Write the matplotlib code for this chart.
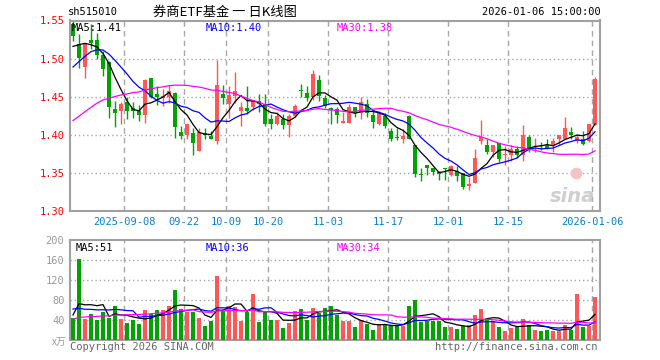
import numpy as np
import matplotlib.pyplot as plt

# daily OHLC, 2025-08-26 .. 2026-01-06
opens = [1.545, 1.519, 1.489, 1.525, 1.525, 1.505, 1.495, 1.434, 1.431, 1.443,
         1.435, 1.431, 1.426, 1.474, 1.454, 1.448, 1.449, 1.455, 1.404, 1.400,
         1.403, 1.379, 1.402, 1.399, 1.392, 1.454, 1.440, 1.451, 1.431, 1.435,
         1.436, 1.444, 1.441, 1.421, 1.414, 1.421, 1.413, 1.425, 1.459, 1.455,
         1.449, 1.472, 1.448, 1.435, 1.434, 1.416, 1.416, 1.436, 1.428, 1.440,
         1.426, 1.414, 1.425, 1.405, 1.397, 1.395, 1.425, 1.386, 1.348, 1.361,
         1.357, 1.351, 1.356, 1.347, 1.353, 1.350, 1.333, 1.337, 1.392, 1.386,
         1.377, 1.389, 1.373, 1.374, 1.381, 1.374, 1.397, 1.386, 1.387, 1.386,
         1.386, 1.394, 1.395, 1.404, 1.392, 1.395, 1.392, 1.413]
highs = [1.551, 1.532, 1.519, 1.545, 1.534, 1.510, 1.497, 1.445, 1.443, 1.449,
         1.443, 1.439, 1.473, 1.475, 1.464, 1.460, 1.465, 1.456, 1.411, 1.414,
         1.409, 1.409, 1.409, 1.405, 1.498, 1.465, 1.464, 1.482, 1.443, 1.464,
         1.446, 1.454, 1.453, 1.427, 1.430, 1.427, 1.427, 1.441, 1.467, 1.464,
         1.485, 1.478, 1.452, 1.437, 1.436, 1.430, 1.441, 1.436, 1.450, 1.447,
         1.431, 1.431, 1.428, 1.409, 1.409, 1.407, 1.426, 1.386, 1.357, 1.361,
         1.357, 1.353, 1.356, 1.361, 1.359, 1.350, 1.345, 1.382, 1.420, 1.394,
         1.387, 1.389, 1.385, 1.387, 1.385, 1.413, 1.400, 1.396, 1.391, 1.395,
         1.396, 1.400, 1.424, 1.410, 1.401, 1.405, 1.414, 1.476]
lows = [1.523, 1.488, 1.475, 1.512, 1.499, 1.477, 1.422, 1.410, 1.414, 1.421,
        1.422, 1.418, 1.416, 1.448, 1.439, 1.438, 1.442, 1.396, 1.394, 1.394,
        1.374, 1.379, 1.395, 1.394, 1.388, 1.440, 1.422, 1.442, 1.411, 1.427,
        1.432, 1.430, 1.412, 1.407, 1.413, 1.407, 1.397, 1.423, 1.449, 1.444,
        1.446, 1.444, 1.435, 1.414, 1.416, 1.416, 1.415, 1.423, 1.421, 1.423,
        1.409, 1.413, 1.409, 1.392, 1.393, 1.389, 1.394, 1.344, 1.339, 1.347,
        1.347, 1.341, 1.341, 1.346, 1.340, 1.329, 1.327, 1.337, 1.388, 1.375,
        1.371, 1.364, 1.361, 1.365, 1.370, 1.365, 1.377, 1.377, 1.380, 1.381,
        1.378, 1.387, 1.394, 1.394, 1.389, 1.386, 1.390, 1.413]
closes = [1.530, 1.501, 1.519, 1.521, 1.505, 1.487, 1.436, 1.428, 1.441, 1.431,
          1.431, 1.426, 1.472, 1.450, 1.449, 1.451, 1.457, 1.410, 1.398, 1.414,
          1.389, 1.404, 1.400, 1.395, 1.465, 1.448, 1.452, 1.457, 1.436, 1.431,
          1.446, 1.441, 1.414, 1.414, 1.425, 1.413, 1.425, 1.438, 1.458, 1.448,
          1.480, 1.451, 1.438, 1.432, 1.426, 1.418, 1.437, 1.428, 1.443, 1.428,
          1.417, 1.428, 1.412, 1.395, 1.396, 1.398, 1.395, 1.348, 1.347, 1.357,
          1.351, 1.349, 1.355, 1.359, 1.346, 1.332, 1.336, 1.369, 1.397, 1.377,
          1.387, 1.368, 1.374, 1.382, 1.374, 1.400, 1.381, 1.387, 1.385, 1.383,
          1.392, 1.400, 1.409, 1.400, 1.397, 1.388, 1.414, 1.473]
# volume, x10k
volume = [45, 162, 43, 53, 40, 56, 44, 68, 43, 35, 41, 32, 60, 52, 60, 60, 68, 100,
          62, 57, 57, 44, 29, 39, 129, 58, 68, 66, 39, 57, 93, 37, 57, 40, 40, 25,
          35, 59, 62, 40, 65, 55, 65, 68, 50, 39, 39, 26, 41, 32, 20, 32, 31, 31,
          29, 29, 68, 80, 37, 38, 39, 39, 26, 26, 22, 29, 30, 50, 62, 42, 39, 26,
          19, 24, 26, 42, 30, 21, 19, 20, 19, 19, 30, 21, 92, 27, 29, 87]

# earlier sessions (before the visible window), only used for the moving averages
prev_close = [1.33, 1.34, 1.35, 1.34, 1.36, 1.37, 1.36, 1.38, 1.39, 1.38,
              1.40, 1.39, 1.41, 1.40, 1.42, 1.41, 1.39, 1.40, 1.42, 1.43,
              1.43, 1.45, 1.46, 1.48, 1.49, 1.49, 1.51, 1.53, 1.52]
prev_vol = [25, 28, 30, 27, 32, 35, 30, 28, 26, 31, 33, 29, 30, 34, 32, 28, 30, 33, 36, 33,
            150, 60, 55, 50, 55, 48, 55, 52, 50]

tick_idx = [9, 19, 26, 33, 43, 53, 63, 73, 87]
tick_labels = ['2025-09-08', '09-22', '10-09', '10-20', '11-03', '11-17', '12-01', '12-15', '2026-01-06']

RED = '#ff5656'
GREEN = '#00a300'
MONO = ['DejaVu Sans Mono']
CJK = ['Noto Sans CJK SC', 'DejaVu Sans']


def ma(values, prev, n):
    full = np.array(prev + values, dtype=float)
    out = np.convolve(full, np.ones(n) / n, mode='valid')
    return out[-len(values):]


def px(x, y):
    return x / 660.0, 1 - y / 360.0


def style_axis(ax, ygrid):
    for s in ax.spines.values():
        s.set_color('#a0a0a0')
        s.set_linewidth(1.5)
    ax.set_xlim(-0.5, 87.83)
    for t in tick_idx:
        ax.axvline(t - 0.45, color='#a8a8a8', lw=1, ls=(0, (4, 3)), zorder=0)
    for g in ygrid:
        ax.axhline(g, color='#a8a8a8', lw=1, ls=(0, (1, 2)), zorder=0)
    ax.tick_params(length=0)


o = np.array(opens)
c = np.array(closes)
h = np.array(highs)
l = np.array(lows)
x = np.arange(len(o))
up = c >= o
cols = np.where(up, RED, GREEN)

fig = plt.figure(figsize=(6.6, 3.6), dpi=100)
ax = fig.add_axes([70 / 660, 1 - 211 / 360, 530 / 660, 190.5 / 360])
style_axis(ax, [1.35, 1.40, 1.45, 1.50])

ax.vlines(x, l, h, colors=cols, lw=1, zorder=2)
body = np.maximum(np.abs(c - o), 0.0012)
ax.bar(x, body, bottom=np.minimum(o, c), width=0.8, color=cols, lw=0, zorder=3)

m5 = ma(closes, prev_close, 5)
m10 = ma(closes, prev_close, 10)
m30 = ma(closes, prev_close, 30)
ax.plot(x, m5, color='black', lw=0.9, zorder=4)
ax.plot(x, m10, color='#0000ff', lw=0.9, zorder=4)
ax.plot(x, m30, color='#ff00ff', lw=0.9, zorder=4)

ax.set_ylim(1.30, 1.55)
ax.set_yticks([1.30, 1.35, 1.40, 1.45, 1.50, 1.55])
ax.set_yticklabels(['%.2f' % v for v in [1.30, 1.35, 1.40, 1.45, 1.50, 1.55]],
                   family=MONO, fontsize=7.5, color='#ff0000')
ax.set_xticks([t - 0.45 for t in tick_idx])
ax.set_xticklabels(tick_labels, family=MONO, fontsize=7.5, color='#0a7fd0')
ax.tick_params(axis='x', pad=4)
ax.tick_params(axis='y', pad=4)

ax.text(0.004, 0.985, 'MA5:%.2f' % m5[-1], transform=ax.transAxes, family=MONO,
        fontsize=7.5, color='black', va='top', zorder=5)
ax.text(0.256, 0.985, 'MA10:%.2f' % m10[-1], transform=ax.transAxes, family=MONO,
        fontsize=7.5, color='#0000ff', va='top', zorder=5)
ax.text(0.503, 0.985, 'MA30:%.2f' % m30[-1], transform=ax.transAxes, family=MONO,
        fontsize=7.5, color='#ff00ff', va='top', zorder=5)

# sina watermark
ax.text(0.99, 0.025, 'sina', transform=ax.transAxes, ha='right', va='bottom',
        fontsize=14, style='italic', weight='bold', color='#cfcfcf', zorder=1)
ax.scatter([0.955], [0.2], transform=ax.transAxes, s=55, color='#f4c4c4', zorder=1)

# volume panel
vax = fig.add_axes([70 / 660, 1 - 340 / 360, 530 / 660, 100 / 360])
style_axis(vax, [40, 80, 120, 160])
vax.bar(x, volume, width=0.76, color=cols, lw=0, zorder=3)
v5 = ma(volume, prev_vol, 5)
v10 = ma(volume, prev_vol, 10)
v30 = ma(volume, prev_vol, 30)
vax.plot(x, v5, color='black', lw=0.9, zorder=4)
vax.plot(x, v10, color='#0000ff', lw=0.9, zorder=4)
vax.plot(x, v30, color='#ff00ff', lw=0.9, zorder=4)
vax.set_ylim(0, 200)
vax.set_yticks([40, 80, 120, 160, 200])
vax.set_yticklabels(['40', '80', '120', '160', '200'], family=MONO, fontsize=7.5, color='#999999')
vax.tick_params(axis='y', pad=4)
vax.set_xticks([])

vax.text(0.01, 0.97, 'MA5:%d' % round(v5[-1]), transform=vax.transAxes, family=MONO,
         fontsize=7.5, color='black', va='top', zorder=5)
vax.text(0.256, 0.97, 'MA10:%d' % round(v10[-1]), transform=vax.transAxes, family=MONO,
         fontsize=7.5, color='#0000ff', va='top', zorder=5)
vax.text(0.503, 0.97, 'MA30:%d' % round(v30[-1]), transform=vax.transAxes, family=MONO,
         fontsize=7.5, color='#ff00ff', va='top', zorder=5)

# header / footer texts
fig.text(*px(68, 12), 'sh515010', family=MONO, fontsize=7.5, va='center')
fig.text(*px(225, 12), '券商ETF基金 一 日K线图', family=CJK, fontsize=9.5, ha='center', va='center')
fig.text(*px(601, 12), '2026-01-06 15:00:00', family=MONO, fontsize=7.5, ha='right', va='center')
fig.text(*px(66, 342), 'x万', family=CJK, fontsize=7, color='#999999', ha='right', va='center')
fig.text(*px(70, 347), 'Copyright 2026 SINA.COM', family=MONO, fontsize=7.5, color='#666666', va='center')
fig.text(*px(598, 347), 'http://finance.sina.com.cn', family=MONO, fontsize=7.5,
         color='#666666', ha='right', va='center')

fig.savefig('out.png', dpi=100)
